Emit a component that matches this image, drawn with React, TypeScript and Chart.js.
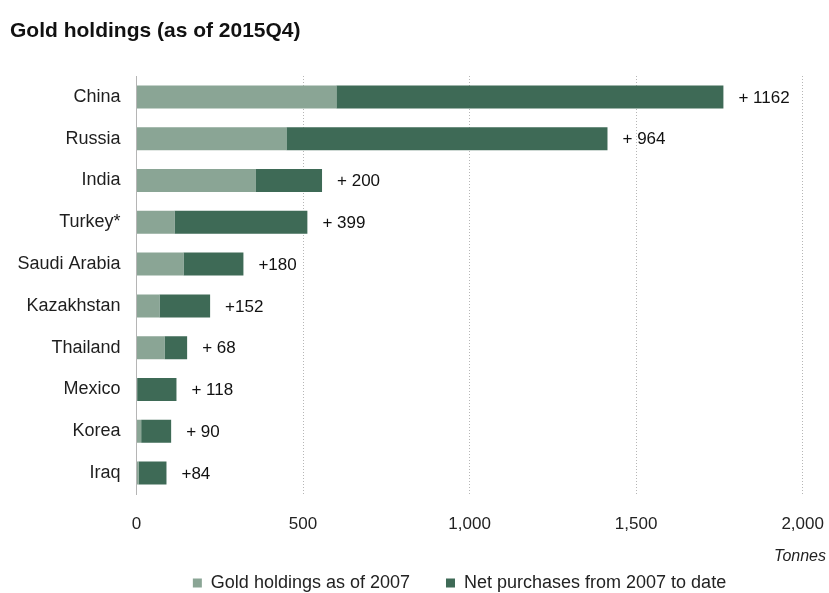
import React, { useEffect, useRef } from "react";
import { Chart, registerables } from "chart.js";

Chart.register(...registerables);

const countries = ["China", "Russia", "India", "Turkey*", "Saudi Arabia", "Kazakhstan", "Thailand", "Mexico", "Korea", "Iraq"];
const holdings2007 = [600, 450, 357, 114, 141, 69, 84, 2, 14, 6];
const netPurchases = [1162, 964, 200, 399, 180, 152, 68, 118, 90, 84];
const netLabels = ["+ 1162", "+ 964", "+ 200", "+ 399", "+180", "+152", "+ 68", "+ 118", "+ 90", "+84"];
const xTickValues = [0, 500, 1000, 1500, 2000];
const seriesNames = ["Gold holdings as of 2007", "Net purchases from 2007 to date"];
const titleText = "Gold holdings (as of 2015Q4)";
const unitText = "Tonnes";

const FONT = "'Liberation Sans', Arial, sans-serif";
const LIGHT = "#8aa595";
const DARK = "#3e6a56";

export default function App() {
  const canvasRef = useRef<HTMLCanvasElement | null>(null);

  useEffect(() => {
    if (!canvasRef.current) return;
    Chart.defaults.font.family = FONT;

    const barLabels = {
      id: "barLabels",
      afterDatasetsDraw(chart: any) {
        const ctx = chart.ctx;
        const meta = chart.getDatasetMeta(1);
        ctx.save();
        ctx.font = `17px ${FONT}`;
        ctx.fillStyle = "#111";
        ctx.textAlign = "left";
        ctx.textBaseline = "middle";
        meta.data.forEach((el: any, i: number) => {
          ctx.fillText(netLabels[i], el.x + 15, el.y + 1);
        });
        ctx.restore();
      },
    };

    const unitLabel = {
      id: "unitLabel",
      afterDraw(chart: any) {
        const ctx = chart.ctx;
        const xs = chart.scales.x;
        ctx.save();
        ctx.font = `italic 16px ${FONT}`;
        ctx.fillStyle = "#222";
        ctx.textAlign = "right";
        ctx.textBaseline = "middle";
        ctx.fillText(unitText, chart.chartArea.right, xs.bottom + 19);
        ctx.restore();
      },
    };

    const legendShift = {
      id: "legendShift",
      beforeDraw(chart: any) {
        const lg = chart.legend;
        if (lg && !lg._shifted) {
          lg.left += 41.5;
          lg.right += 41.5;
          lg._shifted = true;
        }
      },
      afterUpdate(chart: any) {
        if (chart.legend) chart.legend._shifted = false;
      },
    };

    const chart = new Chart(canvasRef.current, {
      type: "bar",
      data: {
        labels: countries,
        datasets: [
          { label: seriesNames[0], data: holdings2007, backgroundColor: LIGHT, borderWidth: 0 },
          { label: seriesNames[1], data: netPurchases, backgroundColor: DARK, borderWidth: 0 },
        ],
      },
      options: {
        indexAxis: "y",
        responsive: false,
        animation: false,
        maintainAspectRatio: false,
        layout: { padding: { left: 10, right: 3, top: 0, bottom: -9 } },
        datasets: { bar: { barPercentage: 0.55, categoryPercentage: 1 } },
        scales: {
          x: {
            stacked: true,
            min: 0,
            max: 2070,
            afterBuildTicks(scale: any) {
              scale.ticks = xTickValues.map((v) => ({ value: v }));
            },
            afterFit(scale: any) {
              scale.height = 44;
              scale.paddingRight = 0;
              scale.paddingLeft = 0;
            },
            grid: {
              drawTicks: false,
              color: (c: any) => (c.tick && c.tick.value === 0 ? "rgba(0,0,0,0)" : "#b6b6b6"),
              lineWidth: 1,
            },
            border: { display: false, dash: [1, 2] },
            ticks: {
              padding: 20,
              color: "#222",
              font: { size: 17 },
              maxRotation: 0,
              callback: (v: any) => Number(v).toLocaleString("en-US"),
            },
          },
          y: {
            stacked: true,
            grid: { display: false, drawTicks: false },
            border: { display: true, color: "#b5b5b5", width: 1 },
            ticks: { padding: 16, color: "#1e1e1e", font: { size: 18 } },
            afterFit(scale: any) {
              scale.width = 126.5;
            },
          },
        },
        plugins: {
          title: {
            display: true,
            text: titleText,
            align: "start",
            color: "#111",
            font: { size: 21, weight: "bold" },
            padding: { top: 19, bottom: 31.8 },
          },
          legend: {
            position: "bottom",
            labels: {
              boxWidth: 9,
              boxHeight: 9,
              padding: 36,
              color: "#222",
              font: { size: 18 },
            },
          },
          tooltip: { enabled: false },
        },
      },
      plugins: [barLabels, unitLabel, legendShift],
    });

    return () => chart.destroy();
  }, []);

  return (
    <div style={{ position: "absolute", left: 0, top: 0, width: 829, height: 593, background: "#fff" }}>
      <canvas ref={canvasRef} width={829} height={593} style={{ width: 829, height: 593, display: "block" }} />
    </div>
  );
}
